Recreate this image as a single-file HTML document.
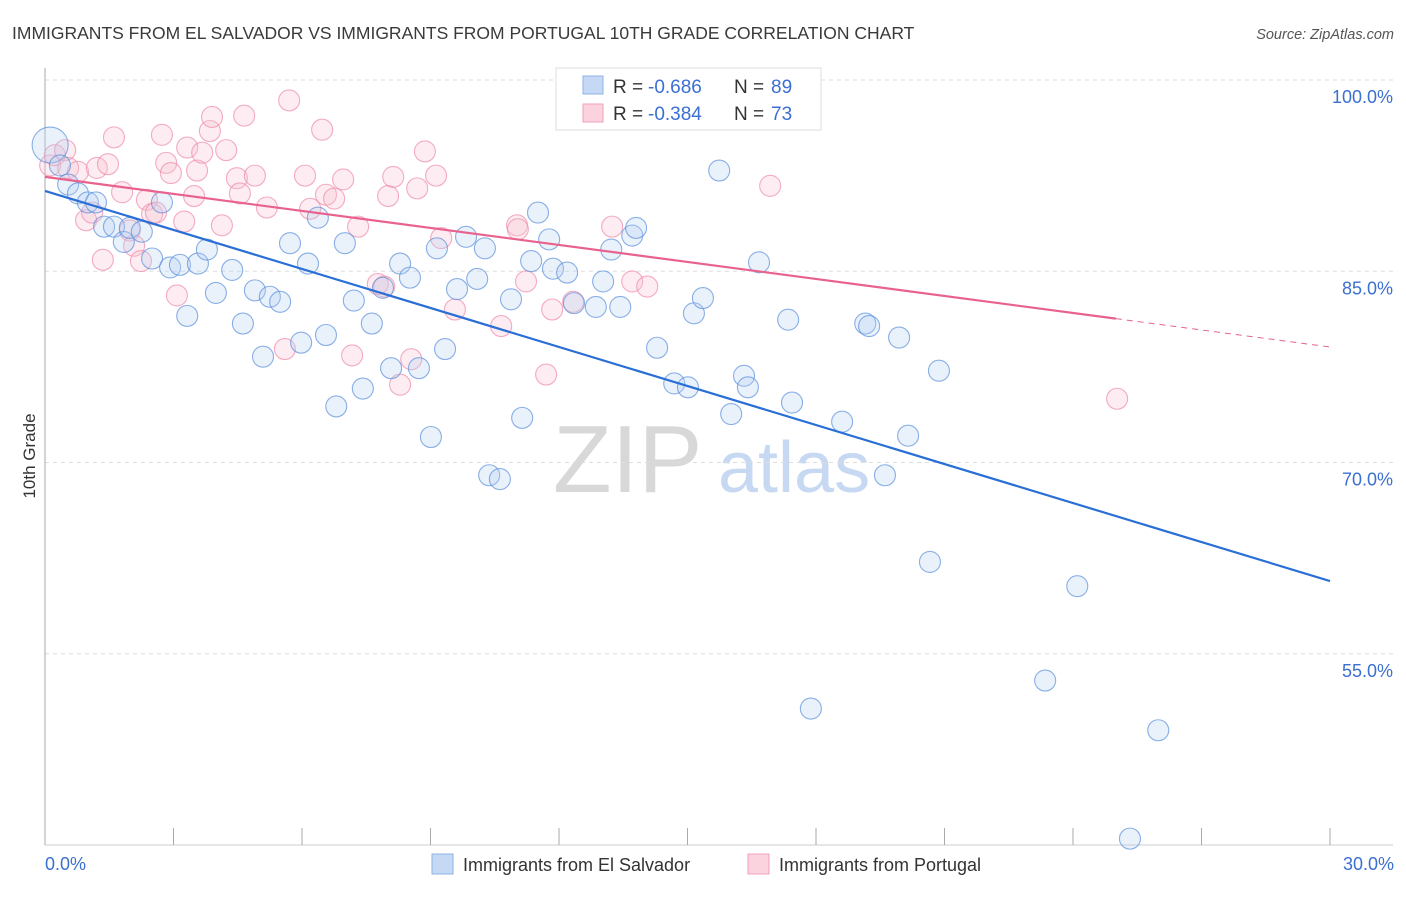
<!DOCTYPE html>
<html><head><meta charset="utf-8">
<style>
body{margin:0;background:#fff;font-family:"Liberation Sans",sans-serif;}
svg text{font-family:"Liberation Sans",sans-serif;}
</style></head>
<body>
<svg id="chart" width="1406" height="892" viewBox="0 0 1406 892">
<text x="12" y="39" font-size="17.5" fill="#3a3a3a">IMMIGRANTS FROM EL SALVADOR VS IMMIGRANTS FROM PORTUGAL 10TH GRADE CORRELATION CHART</text>
<text x="1394" y="39" font-size="14.5" fill="#555" font-style="italic" text-anchor="end">Source: ZipAtlas.com</text>
<g>
<text x="553" y="492" font-size="96" font-family="Liberation Serif" fill="#d8d8d8">ZIP</text>
<text x="718" y="492" font-size="72" fill="#c7d9f2">atlas</text>
</g>
<g id="grid"></g>
<g id="axes"></g>
<g id="pts"></g>
<g id="trends"></g>
<text x="35" y="456" font-size="17" fill="#333" text-anchor="middle" transform="rotate(-90 35 456)">10th Grade</text>
<g>
<rect x="556" y="68" width="265" height="62" fill="#fff" stroke="#ddd"/>
<rect x="583" y="76" width="20" height="18" fill="#c5d9f5" stroke="#8fb2e6"/>
<rect x="583" y="104" width="20" height="18" fill="#fbd3df" stroke="#f0a0b8"/>
<text x="613" y="93" font-size="19" fill="#333">R =</text>
<text x="648" y="93" font-size="19" fill="#3b6fd1">-0.686</text>
<text x="734" y="93" font-size="19" fill="#333">N =</text>
<text x="771" y="93" font-size="19" fill="#3b6fd1">89</text>
<text x="613" y="120" font-size="19" fill="#333">R =</text>
<text x="648" y="120" font-size="19" fill="#3b6fd1">-0.384</text>
<text x="734" y="120" font-size="19" fill="#333">N =</text>
<text x="771" y="120" font-size="19" fill="#3b6fd1">73</text>
</g>
<g>
<rect x="432" y="854" width="21" height="20" fill="#c5d9f5" stroke="#8fb2e6"/>
<text x="463" y="871" font-size="18" fill="#333">Immigrants from El Salvador</text>
<rect x="748" y="854" width="21" height="20" fill="#fbd3df" stroke="#f0a0b8"/>
<text x="779" y="871" font-size="18" fill="#333">Immigrants from Portugal</text>
</g>
</svg>
<script>
const blueX=[0.12,0.35,0.54,0.77,1.0,1.19,1.38,1.61,1.84,1.98,2.26,2.5,2.73,2.92,3.15,3.32,3.57,3.78,3.99,4.37,4.62,4.9,5.09,5.25,5.49,5.72,5.98,6.14,6.37,6.56,6.8,7.0,7.21,7.42,7.63,7.89,8.08,8.29,8.52,8.73,9.01,9.15,9.34,9.62,9.83,10.09,10.27,10.37,10.62,10.88,11.14,11.35,11.51,11.77,11.86,12.19,12.35,12.86,13.03,13.22,13.43,13.71,13.8,14.29,14.69,15.01,15.15,15.36,15.74,16.02,16.32,16.41,16.67,17.35,17.44,17.88,18.61,19.15,19.24,19.61,19.94,20.15,20.66,20.87,23.35,24.1,25.99,25.33];
const blueY=[94.9,93.3,91.8,91.1,90.4,90.4,88.5,88.5,87.3,88.4,88.1,86.0,90.4,85.3,85.5,81.5,85.6,86.7,83.3,85.1,80.9,83.5,78.3,83.0,82.6,87.2,79.4,85.6,89.2,80.0,74.4,87.2,82.7,75.8,80.9,83.7,77.4,85.6,84.5,77.4,72.0,86.8,78.9,83.6,87.7,84.4,86.8,69.0,68.7,82.8,73.5,85.8,89.6,87.5,85.2,84.9,82.5,82.2,84.2,86.7,82.2,87.8,88.4,79.0,76.2,75.9,81.7,82.9,92.9,73.8,76.8,75.9,85.7,81.2,74.7,50.7,73.2,80.9,80.7,69.0,79.8,72.1,62.2,77.2,52.9,60.3,49.0,40.5];
const pinkX=[0.12,0.23,0.47,0.54,0.77,0.96,1.1,1.21,1.35,1.47,1.61,1.8,1.98,2.08,2.24,2.38,2.5,2.59,2.73,2.83,2.94,3.08,3.25,3.32,3.48,3.55,3.67,3.85,3.9,4.13,4.23,4.48,4.55,4.65,4.9,5.18,5.6,5.7,6.07,6.19,6.47,6.56,6.75,6.96,7.17,7.31,7.77,7.92,8.01,8.13,8.29,8.55,8.69,8.87,9.13,9.25,9.57,10.65,11.02,11.04,11.23,11.7,11.84,12.33,13.24,13.71,14.06,13.85,16.69,16.93,25.03];
const pinkY=[93.3,94.1,94.5,93.1,92.8,89.0,89.6,93.1,85.9,93.4,95.5,91.2,88.2,87.0,85.8,90.6,89.5,89.6,95.7,93.5,92.7,83.1,88.9,94.7,90.9,92.9,94.3,96.0,97.1,88.6,94.5,92.3,91.1,97.2,92.5,90.0,78.9,98.4,92.5,89.9,96.1,91.0,90.7,92.2,78.4,88.5,84.0,83.8,90.9,92.4,76.1,78.1,91.5,94.4,92.5,87.6,82.0,80.7,88.6,88.3,84.2,76.9,82.0,82.6,88.5,84.2,83.8,100.0,100.0,91.7,75.0];
const blueTrend=[91.3,60.7];   // value at x=0 and x=30
const pinkTrend=[92.4,79.06];  // value at x=0 and x=30
const pinkSolidEnd=25;
const yTicks=[100,85,70,55];
const yTickLabels=["100.0%","85.0%","70.0%","55.0%"];
const xTickLabels=["0.0%","30.0%"];

const NS="http://www.w3.org/2000/svg";
const X0=45,X1=1330,Y100=80,PPY=12.75;
const sx=v=>X0+v*(X1-X0)/30;
const sy=v=>Y100+(100-v)*PPY;
function mk(tag,attrs,parent){const e=document.createElementNS(NS,tag);for(const k in attrs)e.setAttribute(k,attrs[k]);parent.appendChild(e);return e;}
const grid=document.getElementById('grid'),axes=document.getElementById('axes'),pts=document.getElementById('pts'),tr=document.getElementById('trends');
yTicks.forEach((t,i)=>{
  const l=mk('line',{x1:X0,x2:1393,y1:sy(t),y2:sy(t),stroke:'#ddd','stroke-dasharray':'4,4'},grid);
  
  
  const tx=mk('text',{x:1393,y:sy(t)+23,'font-size':18,fill:'#3b6fd1','text-anchor':'end'},grid);
  tx.textContent=yTickLabels[i];
  
  
});
const ya=mk('line',{x1:X0,x2:X0,y1:68,y2:845,stroke:'#aaa'},axes);


const xa=mk('line',{x1:X0,x2:1393,y1:845,y2:845,stroke:'#ccc'},axes);


for(let i=0;i<=10;i++){
  const t=mk('line',{x1:sx(i*3),x2:sx(i*3),y1:828,y2:845,stroke:'#aaa'},axes);
  
  
}
[[0,'start',X0],[30,'end',1394]].forEach((d,i)=>{
  const t=mk('text',{x:d[2],y:870,'font-size':18,fill:'#3b6fd1','text-anchor':d[1]},axes);
  t.textContent=xTickLabels[i];
  
  
});
function drawPts(xs,ys,fill,stroke,name){
  xs.forEach((x,i)=>{
    const r=(i===0&&name==='point-el-salvador')?18:10.5;
    const c=mk('circle',{cx:sx(x),cy:sy(ys[i]),r:r,fill:fill,'fill-opacity':0.3,stroke:stroke,'stroke-width':1.1,'stroke-opacity':0.7},pts);
    
    
  });
}
drawPts(pinkX,pinkY,'#f8bfd0','#ee8aa8','point-portugal');
drawPts(blueX,blueY,'#b7d0f2','#5a8fdc','point-el-salvador');
const bl=mk('line',{x1:sx(0),y1:sy(blueTrend[0]),x2:sx(30),y2:sy(blueTrend[1]),stroke:'#2a6fd6','stroke-width':2.2},tr);


const pAt=x=>pinkTrend[0]+(pinkTrend[1]-pinkTrend[0])*x/30;
const pl=mk('line',{x1:sx(0),y1:sy(pinkTrend[0]),x2:sx(pinkSolidEnd),y2:sy(pAt(pinkSolidEnd)),stroke:'#e8628d','stroke-width':2.2},tr);


const pd=mk('line',{x1:sx(pinkSolidEnd),y1:sy(pAt(pinkSolidEnd)),x2:sx(30),y2:sy(pinkTrend[1]),stroke:'#e8628d','stroke-width':1,'stroke-dasharray':'6,5'},tr);


</script>
</body></html>
